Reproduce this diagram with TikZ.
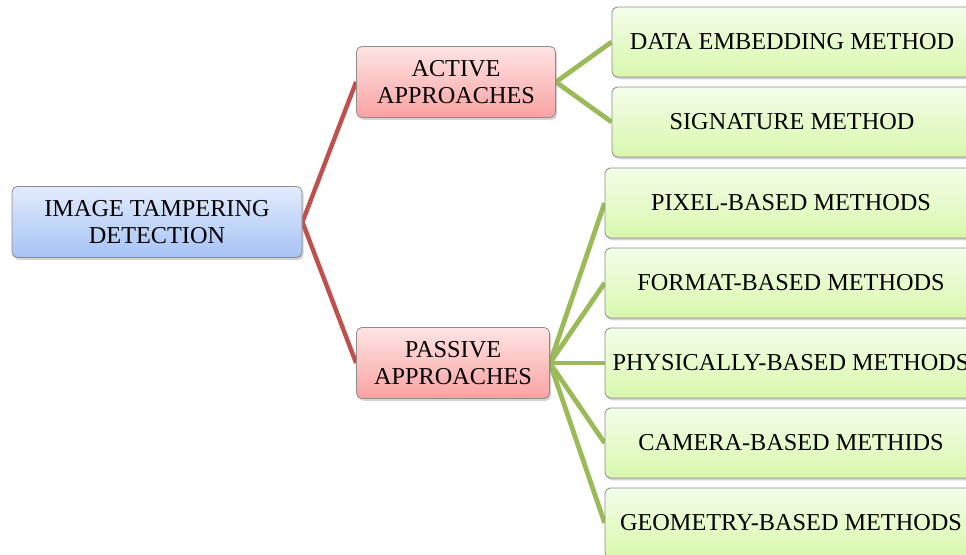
\documentclass[tikz,border=0pt]{standalone}
\usepackage{fontspec}
\setmainfont{Liberation Serif}
\usetikzlibrary{shadows,backgrounds}
\usepackage{xcolor}
\definecolor{rootTop}{HTML}{E2EBFC}
\definecolor{rootBot}{HTML}{A6C3F5}
\definecolor{appTop}{HTML}{FFE4E4}
\definecolor{appBot}{HTML}{F9A2A2}
\definecolor{methTop}{HTML}{F4FDEA}
\definecolor{methBot}{HTML}{D8F8AC}
\definecolor{redLink}{HTML}{C0504D}
\definecolor{greenLink}{HTML}{9BBB59}

\begin{document}
\begin{tikzpicture}[x=0.75pt,y=-0.75pt,
    box/.style={draw=black!45, line width=0.6pt, rounded corners=4pt, align=center, inner sep=0pt,
        font=\fontsize{18.2}{20.8}\selectfont,
        drop shadow={shadow xshift=1.2pt, shadow yshift=-1.8pt, opacity=0.35}},
    rootbox/.style={box, top color=rootTop, bottom color=rootBot, minimum width=217.5pt, minimum height=53.25pt},
    appbox/.style={box, top color=appTop, bottom color=appBot, minimum height=53.25pt},
    methbox/.style={box, top color=methTop, bottom color=methBot, minimum height=52.5pt},
    redlink/.style={draw=redLink, line width=3.3pt},
    greenlink/.style={draw=greenLink, line width=3.6pt}]
\useasboundingbox (0,0) rectangle (966,555);
\node[rootbox] (root) at (157,222) {IMAGE TAMPERING\\DETECTION};
\node[appbox, minimum width=149.25pt] (active) at (456,82) {ACTIVE\\APPROACHES};
\node[appbox, minimum width=144.75pt] (passive) at (453,363) {PASSIVE\\APPROACHES};
\foreach \n/\y/\t in {data/42/DATA EMBEDDING METHOD,sign/122/SIGNATURE METHOD}
    \node[methbox, minimum width=270pt] (\n) at (792,\y) {\t};
\foreach \n/\y/\t in {pixel/203/PIXEL-BASED METHODS,format/283/FORMAT-BASED METHODS,
    phys/363/PHYSICALLY-BASED METHODS,camera/443/CAMERA-BASED METHIDS,geom/523/GEOMETRY-BASED METHODS}
    \node[methbox, minimum width=279pt] (\n) at (791,\y) {\t};
\begin{scope}[on background layer]
    \draw[redlink] (active.west) -- (root.east) -- (passive.west);
    \foreach \n in {data,sign} \draw[greenlink] (active.east) -- (\n.west);
    \foreach \n in {pixel,format,phys,camera,geom} \draw[greenlink] (passive.east) -- (\n.west);
\end{scope}
\end{tikzpicture}
\end{document}
